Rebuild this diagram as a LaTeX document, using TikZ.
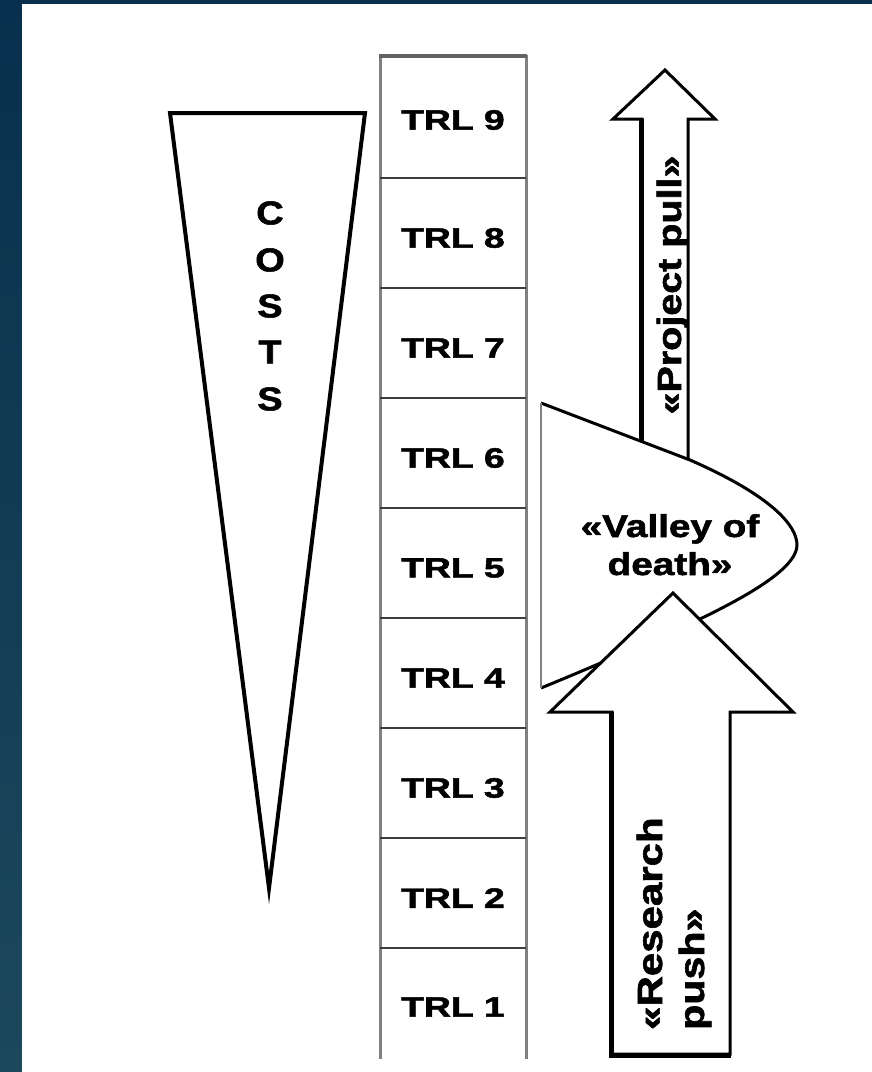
\documentclass[tikz,border=0pt]{standalone}
\usepackage{fontspec}
\usepackage{graphicx}
\setmainfont[BoldFeatures={FakeBold=1.6}]{Liberation Sans}
\definecolor{bgtop}{RGB}{8,48,78}
\definecolor{bgbot}{RGB}{28,72,92}
\definecolor{sidegray}{RGB}{128,128,128}
\definecolor{divgray}{RGB}{60,60,60}
\begin{document}
\begin{tikzpicture}[x=1pt,y=-1pt,
  trl/.style={font=\bfseries\fontsize{28}{30}\selectfont, inner sep=0pt},
  costs/.style={font=\bfseries\fontsize{33}{35}\selectfont, inner sep=0pt},
  rottxt/.style={font=\bfseries\fontsize{28}{30}\selectfont, inner sep=0pt, rotate=90},
  valtxt/.style={font=\bfseries\fontsize{30}{32}\selectfont, inner sep=0pt, anchor=base},
  outline/.style={draw=black, line width=3pt, fill=white, line join=miter},
  shadowline/.style={draw=black, line width=5pt},
]
\useasboundingbox (0,0) rectangle (872,1072);
% background
\shade[top color=bgtop, bottom color=bgbot] (0,0) rectangle (872,1072);
\fill[white] (22,4) rectangle (872,1072);

% TRL column
\draw[sidegray, line width=3pt] (380,55) -- (380,1059);
\draw[sidegray, line width=3pt] (526,55) -- (526,1059);
\draw[divgray!80!white, line width=4pt] (379,56) -- (527,56);
\foreach \yy in {178,288,398,508,618,728,838,948}
  \draw[divgray, line width=2pt] (380,\yy) -- (526,\yy);
\node[trl] (t9) at (453,120) {\scalebox{1.33}[1]{TRL 9}};
\node[trl] (t8) at (453,238) {\scalebox{1.33}[1]{TRL 8}};
\node[trl] (t7) at (453,348) {\scalebox{1.33}[1]{TRL 7}};
\node[trl] (t6) at (453,458) {\scalebox{1.33}[1]{TRL 6}};
\node[trl] (t5) at (453,568) {\scalebox{1.33}[1]{TRL 5}};
\node[trl] (t4) at (453,678) {\scalebox{1.33}[1]{TRL 4}};
\node[trl] (t3) at (453,788) {\scalebox{1.33}[1]{TRL 3}};
\node[trl] (t2) at (453,898) {\scalebox{1.33}[1]{TRL 2}};
\node[trl] (t1) at (453,1007) {\scalebox{1.33}[1]{TRL 1}};

% COSTS triangle
\draw[outline, line width=4pt] (170,113) -- (365,113) -- (269,888) -- cycle;
\node[costs] (c1) at (270,213) {\scalebox{1.15}[1]{C}};
\node[costs] (c2) at (270,260) {\scalebox{1.15}[1]{O}};
\node[costs] (c3) at (270,306) {\scalebox{1.15}[1]{S}};
\node[costs] (c4) at (270,352) {\scalebox{1.15}[1]{T}};
\node[costs] (c5) at (270,399) {\scalebox{1.15}[1]{S}};

% Project pull arrow
\draw[outline] (665,70) -- (715,119) -- (688,119) -- (688,500) -- (642,500) -- (642,119) -- (613,119) -- cycle;
\draw[shadowline] (641,119) -- (641,500);
\node[rottxt, anchor=base] (pp) at (681,285) {\scalebox{1.41}[1.2]{«Project pull»}};

% Valley of death
\fill[white] (541,403) -- (690,460) .. controls (770,495) and (797,525) .. (797,545)
  .. controls (797,565) and (760,590) .. (700,619)
  .. controls (650,642) and (590,668) .. (541,688) -- cycle;
\draw[black, line width=3pt] (541,403) -- (690,460) .. controls (770,495) and (797,525) .. (797,545)
  .. controls (797,565) and (760,590) .. (700,619)
  .. controls (650,642) and (590,668) .. (541,688);
\draw[sidegray, line width=2.5pt] (541,403) -- (541,688);
\node[valtxt] (v1) at (670,537) {\scalebox{1.29}[1.05]{«Valley of}};
\node[valtxt] (v2) at (670,575) {\scalebox{1.29}[1.05]{death»}};

% Research push arrow
\draw[outline] (673,593) -- (793,712) -- (730,712) -- (730,1054) -- (612,1054) -- (612,712) -- (550,712) -- cycle;
\draw[shadowline] (611,712) -- (611,1055) -- (731,1055);
\node[rottxt, anchor=base west] (rp1) at (662,1030) {\scalebox{1.5}[1.25]{«Research}};
\node[rottxt, anchor=base west] (rp2) at (704,1030) {\scalebox{1.47}[1.25]{push»}};
\end{tikzpicture}
\end{document}
